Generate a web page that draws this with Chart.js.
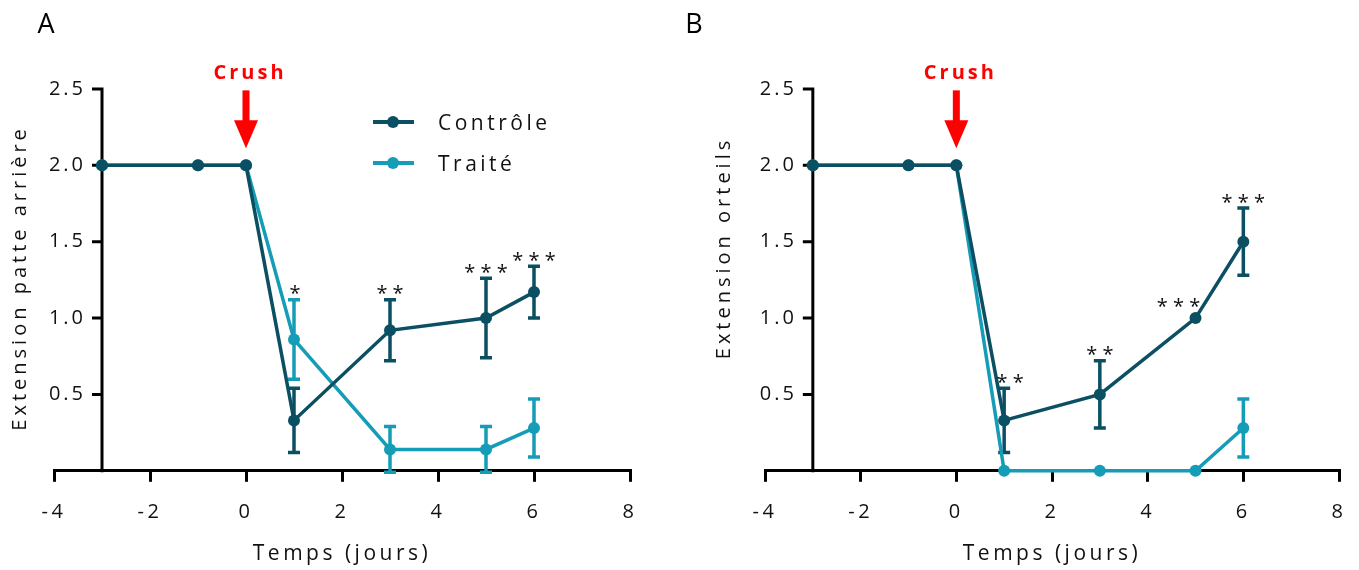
<!DOCTYPE html>
<html>
<head>
<meta charset="utf-8">
<script src="https://cdn.jsdelivr.net/npm/chart.js@4.4.0/dist/chart.umd.min.js"></script>
<style>
  html, body { margin: 0; padding: 0; background: #fff; overflow: hidden; }
  #wrap { position: relative; width: 1359px; height: 570px; overflow: hidden; }
  .panel { position: absolute; top: 0; }
  #panelA { left: 0; }
  #panelB { left: 680px; }
</style>
</head>
<body>
<div id="wrap">
  <div class="panel" id="panelA"><canvas id="chartA" width="680" height="570"></canvas></div>
  <div class="panel" id="panelB"><canvas id="chartB" width="690" height="570"></canvas></div>
</div>
<script>
// shared axes
const days = [-3, -1, 0, 1, 3, 5, 6];
const xTicks = [-4, -2, 0, 2, 4, 6, 8];
const yTicks = [0.5, 1.0, 1.5, 2.0, 2.5];
const yAxisDay = -3;
const crushDay = 0;
const seriesNames = ['Contrôle', 'Traité'];

// A - extension patte arrière
const ctrlA = [2, 2, 2, 0.33, 0.92, 1.0, 1.17];
const ctrlAErr = [0, 0, 0, 0.21, 0.2, 0.26, 0.17];
const treatA = [2, 2, 2, 0.86, 0.14, 0.14, 0.28];
const treatAErr = [0, 0, 0, 0.26, 0.15, 0.15, 0.19];
const starsA = ['', '', '', '*', '* *', '* * *', '* * *'];

// B - extension orteils
const ctrlB = [2, 2, 2, 0.33, 0.5, 1.0, 1.5];
const ctrlBErr = [0, 0, 0, 0.21, 0.22, 0, 0.22];
const treatB = [2, 2, 2, 0, 0, 0, 0.28];
const treatBErr = [0, 0, 0, 0, 0, 0, 0.19];
const starsB = ['', '', '', '* *', '* *', '* * *', '* * *'];

const FONT = "'Open Sans', sans-serif";
const INK = '#111';
const DARK = '#0b4f63';
const LIGHT = '#159cb7';
const colors = [DARK, LIGHT];

function drawErrors(chart, di, errs) {
  const ctx = chart.ctx, xs = chart.scales.x, ys = chart.scales.y;
  const ds = chart.data.datasets[di];
  ctx.save();
  ctx.strokeStyle = ds.borderColor;
  ctx.lineWidth = 3.5;
  ctx.beginPath();
  ds.data.forEach((p, i) => {
    const e = errs[i];
    if (!e) return;
    const px = xs.getPixelForValue(p.x);
    const t = ys.getPixelForValue(p.y + e);
    const b = ys.getPixelForValue(p.y - e);
    ctx.moveTo(px, t); ctx.lineTo(px, b);
    ctx.moveTo(px - 6, t); ctx.lineTo(px + 6, t);
    ctx.moveTo(px - 6, b); ctx.lineTo(px + 6, b);
  });
  ctx.stroke();
  ctx.restore();
}

function makeDecor(cfg) {
  return {
    id: 'decor' + cfg.letter,
    beforeUpdate(chart) { chart.ctx.letterSpacing = '3.5px'; },
    beforeDatasetsDraw(chart) {
      const ctx = chart.ctx, xs = chart.scales.x, ys = chart.scales.y;
      const ax = xs.getPixelForValue(yAxisDay);
      ctx.save();
      // y axis drawn at day -3
      ctx.strokeStyle = '#000';
      ctx.lineWidth = 3;
      ctx.beginPath();
      ctx.moveTo(ax, ys.getPixelForValue(0) + 1.5);
      ctx.lineTo(ax, ys.getPixelForValue(yTicks[yTicks.length - 1]) - 1.5);
      yTicks.forEach(v => {
        const py = ys.getPixelForValue(v);
        ctx.moveTo(ax + 1.5, py); ctx.lineTo(ax - 10, py);
      });
      ctx.stroke();
      ctx.fillStyle = INK;
      ctx.font = '20px ' + FONT;
      ctx.letterSpacing = '3px';
      ctx.textAlign = 'right';
      ctx.textBaseline = 'middle';
      yTicks.forEach(v => ctx.fillText(v.toFixed(1), ax - 16, ys.getPixelForValue(v)));
      const ty = cfg.titleY || (chart.chartArea.top + chart.chartArea.bottom) / 2;
      ctx.translate(ax - cfg.titleGap, ty);
      ctx.rotate(-Math.PI / 2);
      ctx.textAlign = 'center';
      ctx.font = '20px ' + FONT;
      ctx.letterSpacing = '4px';
      ctx.fillText(cfg.yTitle, 2, 0);
      ctx.restore();
      // Traité bars first, Contrôle on top
      drawErrors(chart, 1, cfg.errs[1]);
      drawErrors(chart, 0, cfg.errs[0]);
    },
    afterDraw(chart) {
      const ctx = chart.ctx, xs = chart.scales.x, ys = chart.scales.y;
      ctx.save();
      // significance stars
      ctx.fillStyle = INK;
      ctx.font = '20px ' + FONT;
      ctx.letterSpacing = '0px';
      ctx.textAlign = 'center';
      ctx.textBaseline = 'alphabetic';
      const m = ctx.measureText('*');
      const shift = (m.actualBoundingBoxAscent - m.actualBoundingBoxDescent) / 2;
      cfg.stars.forEach((s, i) => {
        if (!s) return;
        let top = Infinity;
        cfg.series.forEach((vals, di) => {
          const e = cfg.errs[di][i];
          const p = e ? ys.getPixelForValue(vals[i] + e) : ys.getPixelForValue(vals[i]) - 6;
          top = Math.min(top, p);
        });
        const x = xs.getPixelForValue(days[i]) + (cfg.starDx[i] || 0);
        ctx.fillText(s, x, top - 10 + shift);
      });
      // crush arrow
      const cx = xs.getPixelForValue(crushDay);
      const tip = ys.getPixelForValue(cfg.series[0][days.indexOf(crushDay)]) - 17;
      const base = tip - 28;
      ctx.fillStyle = '#ff0000';
      ctx.fillRect(cx - 3.5, base - 30, 7, 31);
      ctx.beginPath();
      ctx.moveTo(cx - 12, base); ctx.lineTo(cx + 12, base); ctx.lineTo(cx, tip);
      ctx.closePath();
      ctx.fill();
      ctx.font = 'bold 20px ' + FONT;
      ctx.letterSpacing = '3px';
      ctx.textBaseline = 'middle';
      ctx.fillText('Crush', cx + 4, base - 47);
      // legend
      if (cfg.legend) {
        const L = cfg.legend;
        chart.data.datasets.forEach((ds, k) => {
          const y = L.y + k * L.dy;
          ctx.strokeStyle = ds.borderColor;
          ctx.lineWidth = 4;
          ctx.beginPath(); ctx.moveTo(L.x, y); ctx.lineTo(L.x + 41, y); ctx.stroke();
          ctx.fillStyle = ds.borderColor;
          ctx.beginPath(); ctx.arc(L.x + 20, y, 6, 0, Math.PI * 2); ctx.fill();
          ctx.fillStyle = INK;
          ctx.font = '21px ' + FONT;
          ctx.letterSpacing = '3.5px';
          ctx.textAlign = 'left';
          ctx.fillText(ds.label, L.x + 65, y + 2);
        });
      }
      // panel letter
      ctx.fillStyle = '#000';
      ctx.font = '27px ' + FONT;
      ctx.letterSpacing = '0px';
      ctx.textAlign = 'center';
      ctx.textBaseline = 'middle';
      ctx.fillText(cfg.letter, cfg.letterX, 25);
      ctx.restore();
    }
  };
}

function makeChart(id, cfg) {
  const datasets = cfg.series.map((vals, k) => ({
    label: seriesNames[k],
    data: days.map((d, i) => ({ x: d, y: vals[i] })),
    borderColor: colors[k],
    backgroundColor: colors[k],
    pointBackgroundColor: colors[k],
    borderWidth: 3.5,
    pointRadius: 6,
    pointHoverRadius: 6,
    pointBorderWidth: 0,
    tension: 0,
    clip: false
  }));
  return new Chart(document.getElementById(id), {
    type: 'line',
    data: { datasets },
    options: {
      responsive: false,
      animation: false,
      events: [],
      layout: { padding: { left: cfg.left, right: cfg.right, top: 89, bottom: 3 } },
      plugins: { legend: { display: false }, tooltip: { enabled: false } },
      scales: {
        x: {
          type: 'linear',
          min: -4,
          max: 8,
          afterBuildTicks: s => { s.ticks = xTicks.map(v => ({ value: v })); },
          grid: { display: true, drawOnChartArea: false, drawTicks: true, tickLength: 11, color: '#000', lineWidth: 3 },
          border: { display: true, color: '#000', width: 3 },
          ticks: { color: INK, font: { family: FONT, size: 20 }, padding: 18, callback: v => String(v) },
          title: { display: true, text: 'Temps (jours)', color: INK, font: { family: FONT, size: 21 }, padding: { top: 0, bottom: 0 } }
        },
        y: { display: false, min: 0, max: 2.5 }
      }
    },
    plugins: [makeDecor(cfg)]
  });
}

makeChart('chartA', {
  letter: 'A', letterX: 46, left: 54, right: 50,
  series: [ctrlA, treatA], errs: [ctrlAErr, treatAErr], stars: starsA,
  starDx: [0, 0, 0, 1, 0, 0, 0],
  yTitle: 'Extension patte arrière', titleGap: 82, titleY: null,
  legend: { x: 373, y: 122, dy: 41 }
});

makeChart('chartB', {
  letter: 'B', letterX: 14, left: 85, right: 31,
  series: [ctrlB, treatB], errs: [ctrlBErr, treatBErr], stars: starsB,
  starDx: [0, 0, 0, 6, 0, -17, 0],
  yTitle: 'Extension orteils', titleGap: 89, titleY: 250,
  legend: null
});
</script>
</body>
</html>
